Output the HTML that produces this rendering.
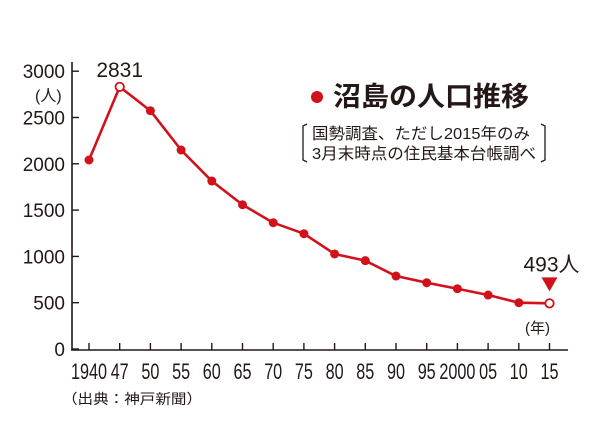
<!DOCTYPE html>
<html><head><meta charset="utf-8">
<style>
html,body{margin:0;padding:0;background:#fff;}
svg{display:block;font-family:"Liberation Sans","Noto Sans CJK JP",sans-serif;}
.tk{font-family:"Liberation Sans","Noto Sans CJK JP",sans-serif;font-size:19px;fill:#231815;}
.xk{font-family:"Liberation Sans","Noto Sans CJK JP",sans-serif;font-size:22px;fill:#231815;}
</style></head>
<body>
<svg id="chart" width="601" height="447" viewBox="0 0 601 447" xmlns="http://www.w3.org/2000/svg">
<g id="axes"></g>
<g id="marks"></g>
<text x="333" y="106" font-size="27" font-weight="bold" fill="#231815" textLength="196" lengthAdjust="spacingAndGlyphs">沼島の人口推移</text>
<circle cx="317" cy="97" r="6" fill="#d1121b"/>
<path d="M307,124 L303,126 L303,160 L307,162" fill="none" stroke="#231815" stroke-width="1.3"/>
<path d="M541,124 L545,126 L545,160 L541,162" fill="none" stroke="#231815" stroke-width="1.3"/>
<text x="312" y="139" font-size="16" fill="#231815" textLength="218" lengthAdjust="spacingAndGlyphs">国勢調査、ただし2015年のみ</text>
<text x="312" y="159" font-size="16" fill="#231815" textLength="224" lengthAdjust="spacingAndGlyphs">3月末時点の住民基本台帳調べ</text>
<text x="35" y="101" font-size="16" fill="#231815">(人)</text>
<text x="525" y="333" font-size="15" fill="#231815">(年)</text>
<text x="62" y="404" font-size="14" fill="#231815" textLength="140" lengthAdjust="spacingAndGlyphs">（出典：神戸新聞）</text>
</svg>
<script>
const categories = ["1940","47","50","55","60","65","70","75","80","85","90","95","2000","05","10","15"];
const population = [2041,2831,2573,2149,1814,1558,1364,1245,1026,954,788,716,651,583,500,493];
const yTicks = [0,500,1000,1500,2000,2500,3000];
const peakLabel = "2831";
const lastLabel = "493人";

const NS = "http://www.w3.org/2000/svg";
const X0 = 89, DX = 30.7, Y0 = 349, PER = 46.3/500;
function xPos(i){ return X0 + i*DX; }
function yPos(v){ return Y0 - v*PER; }
function mk(tag, attrs, parent){ const e=document.createElementNS(NS,tag); for(const k in attrs) e.setAttribute(k,attrs[k]); parent.appendChild(e); return e; }
const axes=document.getElementById('axes'), marks=document.getElementById('marks');

let e = mk('line',{x1:72,y1:62,x2:72,y2:350,stroke:'#231815','stroke-width':1.6},axes);


e = mk('line',{x1:71,y1:350,x2:568,y2:350,stroke:'#231815','stroke-width':1.6},axes);



yTicks.forEach(v=>{
  const y=yPos(v);
  let t=mk('line',{x1:72,y1:y,x2:79,y2:y,stroke:'#231815','stroke-width':1.4},axes);
  
  
  let l=mk('text',{x:65,y:y+7,'text-anchor':'end','class':'tk'},axes);
  l.textContent=String(v);
  
  
});
categories.forEach((c,i)=>{
  const x=xPos(i);
  let t=mk('line',{x1:x,y1:343,x2:x,y2:350,stroke:'#231815','stroke-width':1.4},axes);
  
  
  let l=mk('text',{x:x,y:379,'text-anchor':'middle','class':'xk',textLength:c.length*9,lengthAdjust:'spacingAndGlyphs'},axes);
  l.textContent=c;
  
  
});

const pts=population.map((v,i)=>xPos(i)+','+yPos(v)).join(' ');
let pl=mk('polyline',{points:pts,fill:'none',stroke:'#d1121b','stroke-width':2.6,'stroke-linejoin':'round'},marks);



let maxI=population.indexOf(Math.max(...population));
population.forEach((v,i)=>{
  const hollow = (i===maxI || i===population.length-1);
  let c=mk('circle',{cx:xPos(i),cy:yPos(v),r:hollow?4.2:4.5,fill:hollow?'#fff':'#d1121b',stroke:'#d1121b','stroke-width':hollow?1.8:0},marks);
  
  
});

let pk=mk('text',{x:xPos(maxI),y:yPos(population[maxI])-10,'text-anchor':'middle','font-size':21,fill:'#231815'},marks);
pk.textContent=peakLabel;



const li=population.length-1, lx=xPos(li), ly=yPos(population[li]);
let lt=mk('text',{x:lx+2,y:ly-32,'text-anchor':'middle','font-size':21,fill:'#231815'},marks);
lt.textContent=lastLabel;


let tri=mk('polygon',{points:(lx-8)+','+(ly-26)+' '+(lx+8)+','+(ly-26)+' '+lx+','+(ly-12),fill:'#d1121b'},marks);


</script>
</body></html>
